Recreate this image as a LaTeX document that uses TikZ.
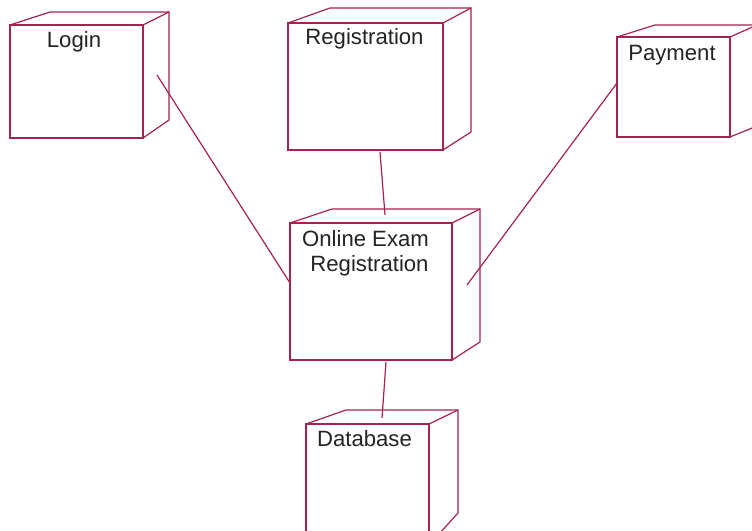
\documentclass[tikz,border=0pt]{standalone}
\usepackage{fontspec}
\setmainfont{Liberation Sans}
\usetikzlibrary{fit}
\definecolor{edgecol}{RGB}{165,35,80}
\definecolor{txtcol}{RGB}{35,35,35}
\tikzset{
  edge/.style={draw=edgecol, line width=0.9pt, line join=miter},
  face/.style={draw=edgecol, line width=0.9pt, inner sep=0pt, rectangle},
  lbl/.style={text=txtcol, font=\fontsize{16.6}{18}\selectfont, anchor=base, inner sep=0pt},
}
% name, x1,y1 (front top-left), x2,y2 (front bottom-right), back-left x, back-top y, back-right x, back-bottom y
\newcommand\devbox[9]{%
  \coordinate (#1-nw) at (#2,#3);
  \coordinate (#1-se) at (#4,#5);
  \node[face, fit=(#1-nw)(#1-se)] (#1) {};
  \draw[edge] (#2,#3) -- (#6,#7) -- (#8,#7) -- (#8,#9) -- (#4,#5);
  \draw[edge] (#4,#3) -- (#8,#7);
}
\begin{document}
\begin{tikzpicture}[x=0.75pt,y=-0.75pt]
\clip (0,0) rectangle (752,531);
\fill[white] (0,0) rectangle (752,531);

\devbox{login}{10}{25}{143}{138}{50}{12}{169}{120}
\devbox{reg}{288}{23}{443}{150}{330}{8}{471}{132}
\devbox{pay}{617}{37}{730}{137}{655}{25}{757}{126}
\devbox{oer}{290}{223}{452}{360}{332}{209}{480}{342}
\devbox{db}{306}{424}{429}{545}{346}{410}{458}{513}

\node[lbl] (tlogin) at (74,48) {Login};
\node[lbl] (treg) at (364.5,45) {Registration};
\node[lbl] (tpay) at (672,61) {Payment};
\node[lbl] (toer1) at (365.5,246) {Online Exam};
\node[lbl] (toer2) at (369.5,271) {Registration};
\node[lbl] (tdb) at (364.5,446) {Database};

\coordinate (c-login) at (157,75);
\coordinate (c-oer-l) at (290,283);
\coordinate (c-reg) at (380,152);
\coordinate (c-oer-t) at (385,215);
\coordinate (c-pay) at (617,83);
\coordinate (c-oer-r) at (467,285);
\coordinate (c-oer-b) at (386,362);
\coordinate (c-db) at (382,418);

\draw[edge] (c-login) -- (c-oer-l);
\draw[edge] (c-reg) -- (c-oer-t);
\draw[edge] (c-pay) -- (c-oer-r);
\draw[edge] (c-oer-b) -- (c-db);
\end{tikzpicture}
\end{document}
